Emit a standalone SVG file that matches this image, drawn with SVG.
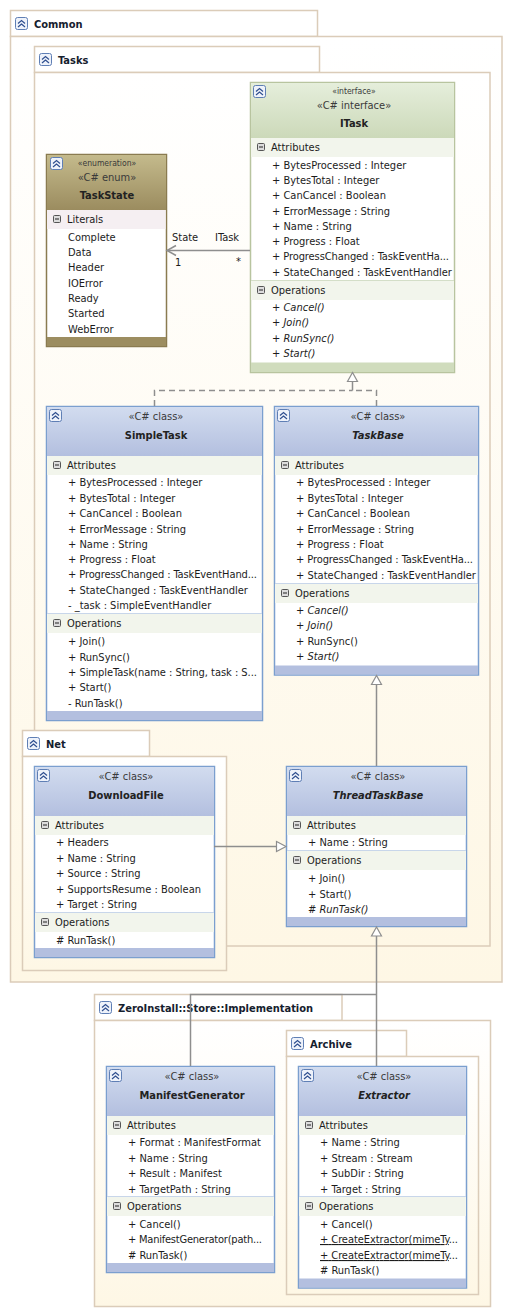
<svg xmlns="http://www.w3.org/2000/svg" xmlns:xlink="http://www.w3.org/1999/xlink" width="511" height="1315" viewBox="0 0 511 1315">
<style>
text{font-family:"DejaVu Sans Condensed","DejaVu Sans",sans-serif;font-size:11px;fill:#1c1c1c}
.pt{font-weight:bold;font-size:11px;fill:#15202e}
.st{text-anchor:middle;fill:#3a3a3a}
.st2{text-anchor:middle;fill:#3a3a3a;font-size:8.5px}
.nm{text-anchor:middle;font-weight:bold;fill:#222}
.i{font-style:italic}
.u{text-decoration:underline}
.pk{stroke:#dbccb9;stroke-width:1.5;fill:url(#pg)}
.tab{stroke:#dbccb9;stroke-width:1.5;fill:#fff}
.cb{stroke:#7b9fcf;stroke-width:1.5;fill:#fff}
.ch{fill:url(#cg)}
.cf{fill:#b3bfdf}
.cs{fill:#f2f5ec}
.cl{stroke:#c8d6ea;stroke-width:1;fill:none}
.ib{stroke:#b8c49f;stroke-width:1.5;fill:#fff}
.ih{fill:url(#ig)}
.if{fill:#d0dcbd}
.eb{stroke:#8a7b50;stroke-width:1.5;fill:#fff}
.eh{fill:url(#eg)}
.ef{fill:#9c8d60}
.es{fill:#f5eff2}
.cn{stroke:#8e8e8e;stroke-width:1.5;fill:none}
.da{stroke-dasharray:6 4}
.tri{stroke:#8e8e8e;stroke-width:1.2;fill:#fff}
</style>
<defs>
<linearGradient id="pg" x1="0" y1="0" x2="0" y2="1"><stop offset="0" stop-color="#fff"/><stop offset="1" stop-color="#fef7e5"/></linearGradient>
<linearGradient id="cg" x1="0" y1="0" x2="0" y2="1"><stop offset="0" stop-color="#d2dcef"/><stop offset="1" stop-color="#b3bfdf"/></linearGradient>
<linearGradient id="ig" x1="0" y1="0" x2="0" y2="1"><stop offset="0" stop-color="#e5eedb"/><stop offset="1" stop-color="#ccd9b9"/></linearGradient>
<linearGradient id="eg" x1="0" y1="0" x2="0" y2="1"><stop offset="0" stop-color="#c4ba8c"/><stop offset="1" stop-color="#9b8c5f"/></linearGradient>
<g id="col"><rect x="0.500" y="0.500" width="12" height="12" rx="2" fill="#eef2fa" stroke="#5f7fb5"/><path d="M3 6.500 6.500 3.500 10 6.500M3 10 6.500 7 10 10" fill="none" stroke="#2f4f8f" stroke-width="1.2"/></g>
<g id="min"><rect x="0.500" y="0.500" width="7" height="7" rx="1" fill="#dcdcdc" stroke="#555"/><path d="M2 4H6" stroke="#222"/></g>
</defs>
<rect width="511" height="1315" fill="#fff"/>

<g id="pkg-common">
<rect class="tab" x="10.500" y="10.500" width="307" height="26"/>
<rect class="pk" x="10.500" y="36.500" width="491.500" height="945.500"/>
<use xlink:href="#col" href="#col" x="15" y="17"/><text class="pt" x="34" y="28">Common</text>
</g>
<g id="pkg-tasks">
<rect class="tab" x="34.500" y="46.500" width="285" height="26"/>
<rect class="pk" x="34.500" y="72.500" width="455.500" height="873.500"/>
<use xlink:href="#col" href="#col" x="39" y="53"/><text class="pt" x="58" y="64">Tasks</text>
</g>
<g id="pkg-net">
<rect class="tab" x="22.500" y="730.500" width="127" height="26"/>
<rect class="pk" x="22.500" y="756.500" width="204" height="214"/>
<use xlink:href="#col" href="#col" x="27" y="737"/><text class="pt" x="46" y="748">Net</text>
</g>
<g id="pkg-impl">
<rect class="tab" x="94.500" y="994.500" width="247.500" height="26"/>
<rect class="pk" x="94.500" y="1020.500" width="396" height="286"/>
<use xlink:href="#col" href="#col" x="99" y="1001"/><text class="pt" x="118" y="1012">ZeroInstall::Store::Implementation</text>
</g>
<g id="pkg-archive">
<rect class="tab" x="286.500" y="1030.500" width="120" height="26"/>
<rect class="pk" x="286.500" y="1056.500" width="192" height="238"/>
<use xlink:href="#col" href="#col" x="291" y="1037"/><text class="pt" x="310" y="1048">Archive</text>
</g>

<g id="TaskState">
<rect class="eb" x="46.500" y="154.500" width="120" height="192"/>
<rect class="eh" x="47" y="155" width="119" height="55"/>
<rect class="es" x="47" y="210" width="118.500" height="19"/>
<rect class="ef" x="47" y="337" width="119" height="9"/>
<use xlink:href="#col" href="#col" x="50" y="157"/>
<text class="st2" x="107" y="166">«enumeration»</text><text class="st" x="107" y="181">«C# enum»</text><text class="nm" x="107" y="199">TaskState</text>
<use xlink:href="#min" href="#min" x="53" y="215"/><text x="67" y="223">Literals</text>
<text x="68" y="241">Complete</text><text x="68" y="256">Data</text><text x="68" y="271">Header</text><text x="68" y="287">IOError</text><text x="68" y="302">Ready</text><text x="68" y="317">Started</text><text x="68" y="333">WebError</text>
</g>

<g id="ITask">
<rect class="ib" x="250.500" y="82.500" width="204" height="290"/>
<rect class="ih" x="251" y="83" width="203" height="55"/>
<rect class="cs" x="251" y="138" width="203" height="19"/>
<rect class="cs" x="251" y="281" width="203" height="19"/>
<path d="M251 280.500H454" stroke="#d4dec8"/>
<rect class="if" x="251" y="362.500" width="203" height="9.500"/>
<use xlink:href="#col" href="#col" x="253" y="85"/>
<text class="st2" x="354" y="94">«interface»</text><text class="st" x="354" y="109">«C# interface»</text><text class="nm" x="354" y="127">ITask</text>
<use xlink:href="#min" href="#min" x="257" y="143"/><text x="271" y="151">Attributes</text>
<text x="272" y="169">+ BytesProcessed : Integer</text><text x="272" y="184">+ BytesTotal : Integer</text><text x="272" y="199">+ CanCancel : Boolean</text><text x="272" y="215">+ ErrorMessage : String</text><text x="272" y="230">+ Name : String</text><text x="272" y="245">+ Progress : Float</text><text x="272" y="260" textLength="177">+ ProgressChanged : TaskEventHa...</text><text x="272" y="276">+ StateChanged : TaskEventHandler</text>
<use xlink:href="#min" href="#min" x="257" y="286"/><text x="271" y="294">Operations</text>
<text class="i" x="272" y="311">+ Cancel()</text><text class="i" x="272" y="326">+ Join()</text><text class="i" x="272" y="342">+ RunSync()</text><text class="i" x="272" y="357">+ Start()</text>
</g>

<g id="SimpleTask">
<rect class="cb" x="46.500" y="406.500" width="216" height="314"/>
<rect class="ch" x="47" y="407" width="215" height="49"/>
<rect class="cs" x="47" y="456" width="215" height="19"/>
<rect class="cs" x="47" y="614" width="215" height="19"/>
<path class="cl" d="M47 613.500H262"/>
<rect class="cf" x="47" y="711" width="215" height="9"/>
<use xlink:href="#col" href="#col" x="49" y="409"/>
<text class="st" x="156" y="420">«C# class»</text><text class="nm" x="156" y="439">SimpleTask</text>
<use xlink:href="#min" href="#min" x="53" y="461"/><text x="67" y="469">Attributes</text>
<text x="68" y="486">+ BytesProcessed : Integer</text><text x="68" y="502">+ BytesTotal : Integer</text><text x="68" y="517">+ CanCancel : Boolean</text><text x="68" y="533">+ ErrorMessage : String</text><text x="68" y="548">+ Name : String</text><text x="68" y="563">+ Progress : Float</text><text x="68" y="578" textLength="189">+ ProgressChanged : TaskEventHand...</text><text x="68" y="594">+ StateChanged : TaskEventHandler</text><text x="68" y="609">- _task : SimpleEventHandler</text>
<use xlink:href="#min" href="#min" x="53" y="619"/><text x="67" y="627">Operations</text>
<text x="68" y="645">+ Join()</text><text x="68" y="661">+ RunSync()</text><text x="68" y="676" textLength="189">+ SimpleTask(name : String, task : S...</text><text x="68" y="691">+ Start()</text><text x="68" y="707">- RunTask()</text>
</g>

<g id="TaskBase">
<rect class="cb" x="274.500" y="406.500" width="204" height="268.500"/>
<rect class="ch" x="275" y="407" width="203" height="49"/>
<rect class="cs" x="275" y="456" width="203" height="19"/>
<rect class="cs" x="275" y="584" width="203" height="19"/>
<path class="cl" d="M275 583.500H478"/>
<rect class="cf" x="275" y="665.500" width="203" height="9"/>
<use xlink:href="#col" href="#col" x="277" y="409"/>
<text class="st" x="378" y="420">«C# class»</text><text class="nm i" x="378" y="439">TaskBase</text>
<use xlink:href="#min" href="#min" x="281" y="461"/><text x="295" y="469">Attributes</text>
<text x="296" y="486">+ BytesProcessed : Integer</text><text x="296" y="502">+ BytesTotal : Integer</text><text x="296" y="517">+ CanCancel : Boolean</text><text x="296" y="533">+ ErrorMessage : String</text><text x="296" y="548">+ Progress : Float</text><text x="296" y="563" textLength="177">+ ProgressChanged : TaskEventHa...</text><text x="296" y="579">+ StateChanged : TaskEventHandler</text>
<use xlink:href="#min" href="#min" x="281" y="589"/><text x="295" y="597">Operations</text>
<text class="i" x="296" y="614">+ Cancel()</text><text class="i" x="296" y="629">+ Join()</text><text x="296" y="645">+ RunSync()</text><text class="i" x="296" y="660">+ Start()</text>
</g>

<g id="DownloadFile">
<rect class="cb" x="34.500" y="766.500" width="180" height="191"/>
<rect class="ch" x="35" y="767" width="179" height="49"/>
<rect class="cs" x="35" y="816" width="179" height="19"/>
<rect class="cs" x="35" y="913" width="179" height="19"/>
<path class="cl" d="M35 912.500H214"/>
<rect class="cf" x="35" y="948" width="179" height="9"/>
<use xlink:href="#col" href="#col" x="37" y="769"/>
<text class="st" x="126" y="780">«C# class»</text><text class="nm" x="126" y="799">DownloadFile</text>
<use xlink:href="#min" href="#min" x="41" y="821"/><text x="55" y="829">Attributes</text>
<text x="56" y="846">+ Headers</text><text x="56" y="862">+ Name : String</text><text x="56" y="877">+ Source : String</text><text x="56" y="893">+ SupportsResume : Boolean</text><text x="56" y="908">+ Target : String</text>
<use xlink:href="#min" href="#min" x="41" y="918"/><text x="55" y="926">Operations</text>
<text x="56" y="944"># RunTask()</text>
</g>

<g id="ThreadTaskBase">
<rect class="cb" x="286.500" y="766.500" width="180" height="160"/>
<rect class="ch" x="287" y="767" width="179" height="49"/>
<rect class="cs" x="287" y="816" width="179" height="19"/>
<rect class="cs" x="287" y="851" width="179" height="19"/>
<path class="cl" d="M287 850.500H466"/>
<rect class="cf" x="287" y="917" width="179" height="9"/>
<use xlink:href="#col" href="#col" x="289" y="769"/>
<text class="st" x="378" y="780">«C# class»</text><text class="nm i" x="378" y="799">ThreadTaskBase</text>
<use xlink:href="#min" href="#min" x="293" y="821"/><text x="307" y="829">Attributes</text>
<text x="308" y="846">+ Name : String</text>
<use xlink:href="#min" href="#min" x="293" y="856"/><text x="307" y="864">Operations</text>
<text x="308" y="882">+ Join()</text><text x="308" y="898">+ Start()</text><text class="i" x="308" y="913"># RunTask()</text>
</g>

<g id="ManifestGenerator">
<rect class="cb" x="106.500" y="1066.500" width="168" height="206"/>
<rect class="ch" x="107" y="1067" width="167" height="49"/>
<rect class="cs" x="107" y="1116" width="167" height="19"/>
<rect class="cs" x="107" y="1197" width="167" height="19"/>
<path class="cl" d="M107 1196.500H274"/>
<rect class="cf" x="107" y="1263" width="167" height="9"/>
<use xlink:href="#col" href="#col" x="109" y="1069"/>
<text class="st" x="192" y="1080">«C# class»</text><text class="nm" x="192" y="1099">ManifestGenerator</text>
<use xlink:href="#min" href="#min" x="113" y="1121"/><text x="127" y="1129">Attributes</text>
<text x="128" y="1146">+ Format : ManifestFormat</text><text x="128" y="1162">+ Name : String</text><text x="128" y="1177">+ Result : Manifest</text><text x="128" y="1193">+ TargetPath : String</text>
<use xlink:href="#min" href="#min" x="113" y="1202"/><text x="127" y="1210">Operations</text>
<text x="128" y="1228">+ Cancel()</text><text x="128" y="1243" textLength="134">+ ManifestGenerator(path...</text><text x="128" y="1259"># RunTask()</text>
</g>

<g id="Extractor">
<rect class="cb" x="298.500" y="1066.500" width="168" height="221.500"/>
<rect class="ch" x="299" y="1067" width="167" height="49"/>
<rect class="cs" x="299" y="1116" width="167" height="19"/>
<rect class="cs" x="299" y="1197" width="167" height="19"/>
<path class="cl" d="M299 1196.500H466"/>
<rect class="cf" x="299" y="1278.500" width="167" height="9"/>
<use xlink:href="#col" href="#col" x="301" y="1069"/>
<text class="st" x="384" y="1080">«C# class»</text><text class="nm i" x="384" y="1099">Extractor</text>
<use xlink:href="#min" href="#min" x="305" y="1121"/><text x="319" y="1129">Attributes</text>
<text x="320" y="1146">+ Name : String</text><text x="320" y="1162">+ Stream : Stream</text><text x="320" y="1177">+ SubDir : String</text><text x="320" y="1193">+ Target : String</text>
<use xlink:href="#min" href="#min" x="305" y="1202"/><text x="319" y="1210">Operations</text>
<text x="320" y="1228">+ Cancel()</text><text x="320" y="1243" textLength="138"><tspan class="u">+ CreateExtractor(mimeTy</tspan>...</text><text x="320" y="1259" textLength="138"><tspan class="u">+ CreateExtractor(mimeTy</tspan>...</text><text x="320" y="1274"># RunTask()</text>
</g>

<g id="connectors">
<path class="cn" d="M250 250.500H167"/>
<path class="cn" stroke-width="1" d="M176 245.500 167 250.500 176 255.500"/>
<text x="172" y="241">State</text><text x="215" y="241">ITask</text><text x="175" y="266">1</text><text x="236" y="265">*</text>
<path class="cn da" d="M154.500 406V390.500H352.500"/>
<path class="cn da" d="M376.500 406V390.500H352.500"/>
<path class="cn" d="M352.500 390.500V382"/>
<path class="tri" d="M352.500 372.500 347.500 381.500H357.500Z"/>
<path class="cn" d="M376.500 766V685"/>
<path class="tri" d="M376.500 675.500 371.500 684.500H381.500Z"/>
<path class="cn" d="M214 846.500H276"/>
<path class="tri" d="M286 846.500 276.500 841.500V851.500Z"/>
<path class="cn" d="M376.500 1066V936"/>
<path class="cn" d="M190.500 1066V994.500H376.500"/>
<path class="tri" d="M376.500 927 371.500 936H381.500Z"/>
</g>
</svg>
